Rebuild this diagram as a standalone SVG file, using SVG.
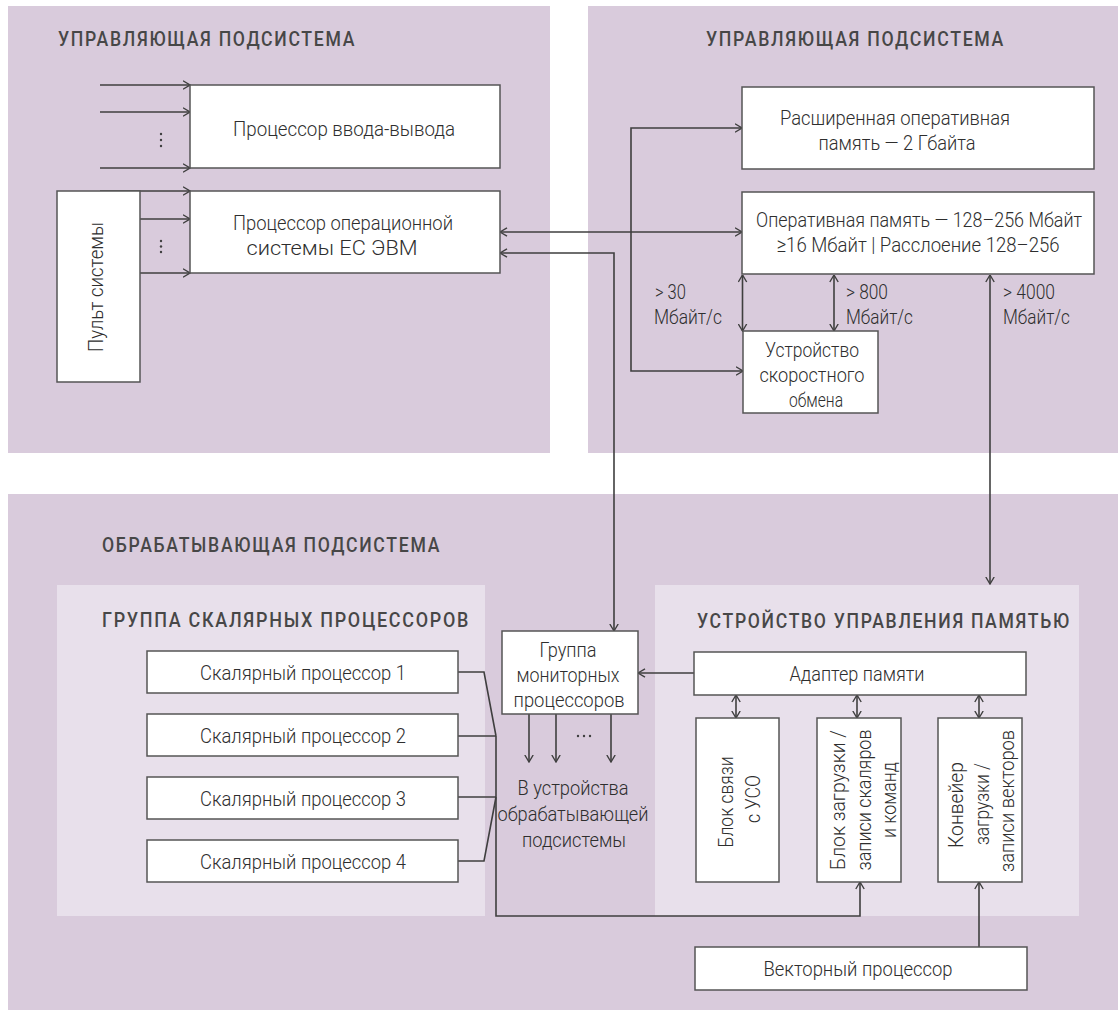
<svg xmlns="http://www.w3.org/2000/svg" width="1118" height="1010" viewBox="0 0 1118 1010">
<defs>
<style>
.panel{fill:#d9cbdc}
.inner{fill:#e8e0eb}
.box{fill:#fff;stroke:#555;stroke-width:1.5}
.ln{fill:none;stroke:#3f3f3f;stroke-width:1.6}
.t{font-family:Roboto,"Liberation Sans",sans-serif;font-weight:300;font-size:21px;fill:#2e2e2e}
.c{text-anchor:middle}
.h{font-family:Roboto,"Liberation Sans",sans-serif;font-weight:500;font-size:21px;fill:#474747;letter-spacing:2px}
</style>
<marker id="ah" viewBox="0 0 8 10" refX="7.5" refY="5" markerWidth="8" markerHeight="10" markerUnits="userSpaceOnUse" orient="auto-start-reverse">
<path d="M0.5,0.8 L7.5,5 L0.5,9.2" fill="none" stroke="#3f3f3f" stroke-width="1.4"/>
</marker>
</defs>
<rect width="1118" height="1010" fill="#fff"/>

<g id="panels">
<rect class="panel" x="8" y="6" width="542" height="447"/>
<rect class="panel" x="588" y="6" width="530" height="447"/>
<rect class="panel" x="8" y="494" width="1110" height="516"/>
<rect class="inner" x="57" y="585" width="428" height="331"/>
<rect class="inner" x="655" y="585" width="424" height="331"/>
</g>

<g id="titles">
<text class="h" transform="translate(58,46) scale(0.84,1)" textLength="354.8" lengthAdjust="spacingAndGlyphs">УПРАВЛЯЮЩАЯ ПОДСИСТЕМА</text>
<text class="h" transform="translate(706,46) scale(0.84,1)" textLength="356" lengthAdjust="spacingAndGlyphs">УПРАВЛЯЮЩАЯ ПОДСИСТЕМА</text>
<text class="h" transform="translate(102,552) scale(0.84,1)" textLength="403.6" lengthAdjust="spacingAndGlyphs">ОБРАБАТЫВАЮЩАЯ ПОДСИСТЕМА</text>
<text class="h" transform="translate(102,627) scale(0.84,1)" textLength="438.1" lengthAdjust="spacingAndGlyphs">ГРУППА СКАЛЯРНЫХ ПРОЦЕССОРОВ</text>
<text class="h" transform="translate(697,628) scale(0.84,1)" textLength="445.2" lengthAdjust="spacingAndGlyphs">УСТРОЙСТВО УПРАВЛЕНИЯ ПАМЯТЬЮ</text>
</g>

<g id="connectors">
<path class="ln" d="M100,85 H190" marker-end="url(#ah)"/>
<path class="ln" d="M100,112 H190" marker-end="url(#ah)"/>
<path class="ln" d="M100,168 H190" marker-end="url(#ah)"/>
<path class="ln" d="M100,191 H190" marker-end="url(#ah)"/>
<path class="ln" d="M140,219 H190" marker-end="url(#ah)"/>
<path class="ln" d="M140,273 H190" marker-end="url(#ah)"/>
<path class="ln" d="M500,232 H742" marker-start="url(#ah)" marker-end="url(#ah)"/>
<path class="ln" d="M742,128 H631 V371 H743" marker-start="url(#ah)" marker-end="url(#ah)"/>
<path class="ln" d="M500,253 H614 V631" marker-start="url(#ah)" marker-end="url(#ah)"/>
<path class="ln" d="M742.5,275 V331" marker-start="url(#ah)" marker-end="url(#ah)"/>
<path class="ln" d="M834,275 V331" marker-start="url(#ah)" marker-end="url(#ah)"/>
<path class="ln" d="M990,275 V584" marker-start="url(#ah)" marker-end="url(#ah)"/>
<path class="ln" d="M694,673 H638" marker-end="url(#ah)"/>
<path class="ln" d="M529,714 V762" marker-end="url(#ah)"/>
<path class="ln" d="M556,714 V762" marker-end="url(#ah)"/>
<path class="ln" d="M611,714 V762" marker-end="url(#ah)"/>
<path class="ln" d="M736,695 V718" marker-start="url(#ah)" marker-end="url(#ah)"/>
<path class="ln" d="M857,695 V718" marker-start="url(#ah)" marker-end="url(#ah)"/>
<path class="ln" d="M979,695 V718" marker-start="url(#ah)" marker-end="url(#ah)"/>
<path class="ln" d="M458,672 H484 L496,736"/>
<path class="ln" d="M458,736 H496"/>
<path class="ln" d="M458,797 H496"/>
<path class="ln" d="M458,861 H484 L496,797"/>
<path class="ln" d="M496,736 V916 H860 V882" marker-end="url(#ah)"/>
<path class="ln" d="M979,947 V882" marker-end="url(#ah)"/>
<g fill="#3f3f3f">
<circle cx="161" cy="134" r="1.2"/><circle cx="161" cy="140" r="1.2"/><circle cx="161" cy="146" r="1.2"/>
<circle cx="161" cy="241" r="1.2"/><circle cx="161" cy="246.5" r="1.2"/><circle cx="161" cy="252" r="1.2"/>
<circle cx="578" cy="736" r="1.2"/><circle cx="584" cy="736" r="1.2"/><circle cx="590" cy="736" r="1.2"/>
</g>
</g>

<g id="n-io">
<rect class="box" x="190" y="85" width="310" height="83"/>
<text class="t c" transform="translate(344,136) scale(0.88,1)" textLength="252.3" lengthAdjust="spacingAndGlyphs">Процессор ввода-вывода</text>
</g>
<g id="n-os">
<rect class="box" x="190" y="191" width="310" height="82"/>
<text class="t c" transform="translate(343,229.5) scale(0.88,1)" textLength="250" lengthAdjust="spacingAndGlyphs">Процессор операционной</text>
<text class="t c" transform="translate(332,254.5) scale(0.88,1)" textLength="194.3" lengthAdjust="spacingAndGlyphs">системы ЕС  ЭВМ</text>
</g>
<g id="n-console">
<rect class="box" x="57" y="191" width="83" height="191"/>
<text class="t c" transform="translate(103,287) rotate(-90) scale(0.88,1)" textLength="147.7" lengthAdjust="spacingAndGlyphs">Пульт системы</text>
</g>
<g id="n-extmem">
<rect class="box" x="742" y="87" width="352" height="82"/>
<text class="t c" transform="translate(895,124.5) scale(0.88,1)" textLength="261.4" lengthAdjust="spacingAndGlyphs">Расширенная оперативная</text>
<text class="t c" transform="translate(897,149.5) scale(0.88,1)" textLength="178.4" lengthAdjust="spacingAndGlyphs">память — 2 Гбайта</text>
</g>
<g id="n-mem">
<rect class="box" x="742" y="192" width="352" height="82"/>
<text class="t c" transform="translate(919,227) scale(0.88,1)" textLength="370.5" lengthAdjust="spacingAndGlyphs">Оперативная память — 128–256 Мбайт</text>
<text class="t c" transform="translate(918,252) scale(0.88,1)" textLength="321.6" lengthAdjust="spacingAndGlyphs">≥16 Мбайт | Расслоение 128–256</text>
</g>
<g id="n-fast">
<rect class="box" x="743" y="331" width="135" height="82"/>
<text class="t c" transform="translate(812,357) scale(0.88,1)" textLength="106.8" lengthAdjust="spacingAndGlyphs">Устройство</text>
<text class="t c" transform="translate(812,382) scale(0.88,1)" textLength="119.3" lengthAdjust="spacingAndGlyphs">скоростного</text>
<text class="t c" transform="translate(816,407) scale(0.88,1)" textLength="61.4" lengthAdjust="spacingAndGlyphs">обмена</text>
</g>
<g id="labels-speed">
<text class="t" transform="translate(655,299) scale(0.88,1)" textLength="35.2" lengthAdjust="spacingAndGlyphs">&gt; 30</text>
<text class="t" transform="translate(654,324) scale(0.88,1)" textLength="77.3" lengthAdjust="spacingAndGlyphs">Мбайт/с</text>
<text class="t" transform="translate(846,299) scale(0.88,1)" textLength="47.7" lengthAdjust="spacingAndGlyphs">&gt; 800</text>
<text class="t" transform="translate(846,324) scale(0.88,1)" textLength="76.1" lengthAdjust="spacingAndGlyphs">Мбайт/с</text>
<text class="t" transform="translate(1003,299) scale(0.88,1)" textLength="59.1" lengthAdjust="spacingAndGlyphs">&gt; 4000</text>
<text class="t" transform="translate(1003,324) scale(0.88,1)" textLength="76.1" lengthAdjust="spacingAndGlyphs">Мбайт/с</text>
</g>
<g id="n-sp1">
<rect class="box" x="147" y="651" width="311" height="42"/>
<text class="t c" transform="translate(303,679.5) scale(0.88,1)" textLength="234.1" lengthAdjust="spacingAndGlyphs">Скалярный процессор 1</text>
</g>
<g id="n-sp2">
<rect class="box" x="147" y="714" width="311" height="42"/>
<text class="t c" transform="translate(303,742.5) scale(0.88,1)" textLength="234.1" lengthAdjust="spacingAndGlyphs">Скалярный процессор 2</text>
</g>
<g id="n-sp3">
<rect class="box" x="147" y="777" width="311" height="42"/>
<text class="t c" transform="translate(303,805.5) scale(0.88,1)" textLength="234.1" lengthAdjust="spacingAndGlyphs">Скалярный процессор 3</text>
</g>
<g id="n-sp4">
<rect class="box" x="147" y="840" width="311" height="42"/>
<text class="t c" transform="translate(303,868.5) scale(0.88,1)" textLength="234.1" lengthAdjust="spacingAndGlyphs">Скалярный процессор 4</text>
</g>
<g id="n-monitor">
<rect class="box" x="502" y="631" width="136" height="83"/>
<text class="t c" transform="translate(568,657) scale(0.88,1)" textLength="64.8" lengthAdjust="spacingAndGlyphs">Группа</text>
<text class="t c" transform="translate(568,682) scale(0.88,1)" textLength="117" lengthAdjust="spacingAndGlyphs">мониторных</text>
<text class="t c" transform="translate(569,707) scale(0.88,1)" textLength="126.1" lengthAdjust="spacingAndGlyphs">процессоров</text>
</g>
<g id="n-dest">
<text class="t c" transform="translate(573,795) scale(0.88,1)" textLength="126.1" lengthAdjust="spacingAndGlyphs">В устройства</text>
<text class="t c" transform="translate(573,821) scale(0.88,1)" textLength="171.6" lengthAdjust="spacingAndGlyphs">обрабатывающей</text>
<text class="t c" transform="translate(574,847) scale(0.88,1)" textLength="118.2" lengthAdjust="spacingAndGlyphs">подсистемы</text>
</g>
<g id="n-adapter">
<rect class="box" x="694" y="652" width="332" height="43"/>
<text class="t c" transform="translate(857,680.5) scale(0.88,1)" textLength="153.4" lengthAdjust="spacingAndGlyphs">Адаптер памяти</text>
</g>
<g id="n-uso">
<rect class="box" x="696" y="718" width="83" height="164"/>
<text class="t c" transform="translate(733,802) rotate(-90) scale(0.88,1)" textLength="103.4" lengthAdjust="spacingAndGlyphs">Блок связи</text>
<text class="t c" transform="translate(760,799) rotate(-90) scale(0.88,1)" textLength="54.5" lengthAdjust="spacingAndGlyphs">с УСО</text>
</g>
<g id="n-scalar-ls">
<rect class="box" x="817" y="718" width="84" height="164"/>
<text class="t c" transform="translate(845,800) rotate(-90) scale(0.88,1)" textLength="159.1" lengthAdjust="spacingAndGlyphs">Блок загрузки /</text>
<text class="t c" transform="translate(871,800) rotate(-90) scale(0.88,1)" textLength="160.2" lengthAdjust="spacingAndGlyphs">записи скаляров</text>
<text class="t c" transform="translate(896,800) rotate(-90) scale(0.88,1)" textLength="86.4" lengthAdjust="spacingAndGlyphs">и команд</text>
</g>
<g id="n-vector-ls">
<rect class="box" x="938" y="718" width="84" height="164"/>
<text class="t c" transform="translate(963,805) rotate(-90) scale(0.88,1)" textLength="97.7" lengthAdjust="spacingAndGlyphs">Конвейер</text>
<text class="t c" transform="translate(989,804) rotate(-90) scale(0.88,1)" textLength="93.2" lengthAdjust="spacingAndGlyphs">загрузки /</text>
<text class="t c" transform="translate(1014,801) rotate(-90) scale(0.88,1)" textLength="161.4" lengthAdjust="spacingAndGlyphs">записи векторов</text>
</g>
<g id="n-vector">
<rect class="box" x="695" y="947" width="332" height="43"/>
<text class="t c" transform="translate(858,975.5) scale(0.88,1)" textLength="214.8" lengthAdjust="spacingAndGlyphs">Векторный процессор</text>
</g>
</svg>
